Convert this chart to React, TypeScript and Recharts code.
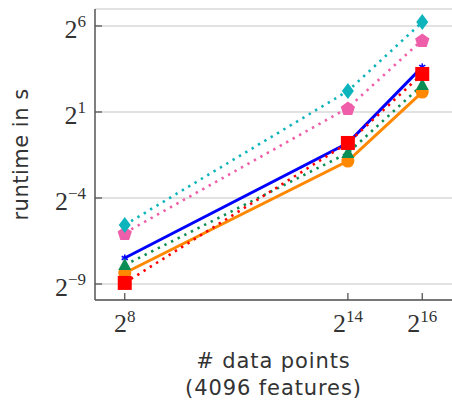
import React from "react";
import { LineChart, Line, XAxis, YAxis, CartesianGrid } from "recharts";

// x: number of data points
const X_VALUES = [256, 16384, 65536];
const X_TICK_EXPONENTS = [8, 14, 16];
const Y_TICK_EXPONENTS = [-9, -4, 1, 6];

// runtime in seconds
const BLUE = [0.00556, 0.574, 12.3];
const ORANGE = [0.00304, 0.277, 4.47];
const GREEN = [0.00419, 0.384, 5.94];
const RED = [0.00204, 0.574, 9.26];
const PINK = [0.0153, 2.35, 36.5];
const CYAN = [0.0211, 4.66, 75];

const X_TICKS = X_TICK_EXPONENTS.map((e) => Math.pow(2, e));
const Y_TICKS = Y_TICK_EXPONENTS.map((e) => Math.pow(2, e));
const X_DOMAIN = [147.03, 114105];
const Y_DOMAIN = [0.001025, 126.9];

const data = X_VALUES.map((x, i) => ({
  x,
  blue: BLUE[i],
  orange: ORANGE[i],
  green: GREEN[i],
  red: RED[i],
  pink: PINK[i],
  cyan: CYAN[i],
}));

const C_BLUE = "#0000ff";
const C_ORANGE = "#ff8800";
const C_GREEN = "#0b8e55";
const C_RED = "#ff0000";
const C_PINK = "#ef5ea8";
const C_CYAN = "#0db4bc";
const AXIS = "#555555";
const TEXT = "#333333";
const SERIF = "'Liberation Serif', 'DejaVu Serif', serif";
const SANS = "'DejaVu Sans', sans-serif";

const expOf = (v: number) => Math.round(Math.log2(v));

const BottomTick = (props: any) => {
  const { x, y, payload } = props;
  const e = expOf(payload.value);
  return (
    <g>
      <line x1={x} y1={y} x2={x} y2={y - 7} stroke={AXIS} strokeWidth={1.3} />
      <text x={x} y={y + 32} textAnchor="middle" fill={TEXT} fontFamily={SERIF}>
        <tspan fontSize={26}>2</tspan>
        <tspan fontSize={17} dy={-10}>{e}</tspan>
      </text>
    </g>
  );
};

const TopTick = (props: any) => {
  const { x, y } = props;
  return <line x1={x} y1={y} x2={x} y2={y + 7} stroke={AXIS} strokeWidth={1.3} />;
};

const LeftTick = (props: any) => {
  const { x, y, payload } = props;
  const e = expOf(payload.value);
  const label = e < 0 ? "\u2212" + Math.abs(e) : String(e);
  return (
    <g>
      <line x1={x} y1={y} x2={x + 7} y2={y} stroke={AXIS} strokeWidth={1.3} />
      <text x={x - 9} y={y + 12} textAnchor="end" fill={TEXT} fontFamily={SERIF}>
        <tspan fontSize={26}>2</tspan>
        <tspan fontSize={17} dy={-11}>{label}</tspan>
      </text>
    </g>
  );
};

const RightTick = (props: any) => {
  const { x, y } = props;
  return <line x1={x} y1={y} x2={x - 7} y2={y} stroke={AXIS} strokeWidth={1.3} />;
};

const Diamond = (props: any) => {
  const { cx, cy } = props;
  if (cx == null || cy == null) return <g key={props.key} />;
  return (
    <polygon
      key={props.key}
      points={`${cx},${cy - 8} ${cx + 6},${cy} ${cx},${cy + 8} ${cx - 6},${cy}`}
      fill={C_CYAN}
    />
  );
};

const Pentagon = (props: any) => {
  const { cx, cy } = props;
  if (cx == null || cy == null) return <g key={props.key} />;
  const r = 7.5;
  const pts = [0, 1, 2, 3, 4]
    .map((k) => {
      const a = -Math.PI / 2 + (k * 2 * Math.PI) / 5;
      return `${cx + r * Math.cos(a)},${cy + 1 + r * Math.sin(a)}`;
    })
    .join(" ");
  return <polygon key={props.key} points={pts} fill={C_PINK} />;
};

const Square = (props: any) => {
  const { cx, cy } = props;
  if (cx == null || cy == null) return <g key={props.key} />;
  return <rect key={props.key} x={cx - 7} y={cy - 7} width={14} height={14} fill={C_RED} />;
};

const Triangle = (props: any) => {
  const { cx, cy } = props;
  if (cx == null || cy == null) return <g key={props.key} />;
  return (
    <polygon
      key={props.key}
      points={`${cx},${cy - 7} ${cx + 6.5},${cy + 5} ${cx - 6.5},${cy + 5}`}
      fill={C_GREEN}
    />
  );
};

const Circle = (props: any) => {
  const { cx, cy } = props;
  if (cx == null || cy == null) return <g key={props.key} />;
  return <circle key={props.key} cx={cx} cy={cy} r={6.5} fill={C_ORANGE} />;
};

const Star = (props: any) => {
  const { cx, cy } = props;
  if (cx == null || cy == null) return <g key={props.key} />;
  const s = 3.5;
  return (
    <g key={props.key} stroke={C_BLUE} strokeWidth={1.6}>
      <line x1={cx} y1={cy - s} x2={cx} y2={cy + s} />
      <line x1={cx - s * 0.87} y1={cy - s / 2} x2={cx + s * 0.87} y2={cy + s / 2} />
      <line x1={cx - s * 0.87} y1={cy + s / 2} x2={cx + s * 0.87} y2={cy - s / 2} />
    </g>
  );
};

const XTitle = (props: any) => {
  const vb = props.viewBox;
  const cx = vb.x + vb.width / 2;
  return (
    <g>
      <text x={cx} y={vb.y + 68} textAnchor="middle" fill={TEXT} fontFamily={SANS} fontSize={21} letterSpacing={0.9}>
        # data points
      </text>
      <text x={cx} y={vb.y + 95} textAnchor="middle" fill={TEXT} fontFamily={SANS} fontSize={21} letterSpacing={0.9}>
        (4096 features)
      </text>
    </g>
  );
};

const YTitle = (props: any) => {
  const vb = props.viewBox;
  const cx = vb.x + 28;
  const cy = vb.y + vb.height / 2;
  return (
    <text
      x={cx}
      y={cy}
      textAnchor="middle"
      fill={TEXT}
      fontFamily={SANS}
      fontSize={21}
      letterSpacing={0.5}
      transform={`rotate(-90 ${cx} ${cy})`}
    >
      runtime in s
    </text>
  );
};

const DOT = "2.4 5";

export default function App() {
  return (
    <div style={{ position: "absolute", left: 0, top: 0, width: 452, height: 407, overflow: "hidden", background: "#fff" }}>
      <LineChart width={452} height={407} data={data} margin={{ top: 9, right: 0, bottom: 0, left: 0 }}>
        <CartesianGrid vertical={false} stroke="#d9d9d9" strokeWidth={1.5} />
        <XAxis
          dataKey="x"
          type="number"
          scale="log"
          domain={X_DOMAIN}
          allowDataOverflow
          ticks={X_TICKS}
          tick={BottomTick}
          tickLine={false}
          tickSize={0}
          tickMargin={0}
          height={107}
          stroke={AXIS}
          strokeWidth={1.5}
          interval={0}
          label={{ content: XTitle }}
        />
        <XAxis
          xAxisId="top"
          orientation="top"
          dataKey="x"
          type="number"
          scale="log"
          domain={X_DOMAIN}
          allowDataOverflow
          ticks={X_TICKS}
          tick={TopTick}
          tickLine={false}
          tickSize={0}
          tickMargin={0}
          height={0}
          stroke={AXIS}
          strokeWidth={1.5}
          interval={0}
        />
        <YAxis
          type="number"
          scale="log"
          domain={Y_DOMAIN}
          allowDataOverflow
          ticks={Y_TICKS}
          tick={LeftTick}
          tickLine={false}
          tickSize={0}
          tickMargin={0}
          width={95}
          stroke={AXIS}
          strokeWidth={1.5}
          interval={0}
          label={{ content: YTitle }}
        />
        <YAxis
          yAxisId="right"
          orientation="right"
          type="number"
          scale="log"
          domain={Y_DOMAIN}
          allowDataOverflow
          ticks={Y_TICKS}
          tick={RightTick}
          tickLine={false}
          tickSize={0}
          tickMargin={0}
          width={0}
          stroke={AXIS}
          strokeWidth={1.5}
          interval={0}
        />
        <Line dataKey="blue" stroke={C_BLUE} strokeWidth={3} dot={Star} activeDot={false} isAnimationActive={false} />
        <Line dataKey="orange" stroke={C_ORANGE} strokeWidth={3} dot={Circle} activeDot={false} isAnimationActive={false} />
        <Line dataKey="green" stroke={C_GREEN} strokeWidth={2.6} strokeDasharray={DOT} dot={Triangle} activeDot={false} isAnimationActive={false} />
        <Line dataKey="red" stroke={C_RED} strokeWidth={2.6} strokeDasharray={DOT} dot={Square} activeDot={false} isAnimationActive={false} />
        <Line dataKey="pink" stroke={C_PINK} strokeWidth={2.6} strokeDasharray={DOT} dot={Pentagon} activeDot={false} isAnimationActive={false} />
        <Line dataKey="cyan" stroke={C_CYAN} strokeWidth={2.6} strokeDasharray={DOT} dot={Diamond} activeDot={false} isAnimationActive={false} />
      </LineChart>
    </div>
  );
}
